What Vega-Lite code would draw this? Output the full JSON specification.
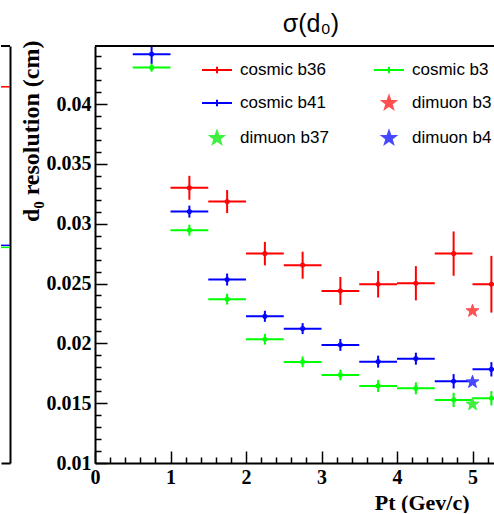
{
  "$schema": "https://vega.github.io/schema/vega-lite/v6.json",
  "padding": {"left": 0, "top": 12, "right": 0, "bottom": 0},
  "background": "white",
  "bounds": "flush",
  "spacing": 85,
  "config": {"view": {"stroke": null}, "font": "Liberation Sans", "axis": {"labelOverlap": false}},
  "datasets": {
    "left": [
      {"series": "cosmic b36", "level": 0.04144},
      {"series": "cosmic b41", "level": 0.02819},
      {"series": "cosmic b37", "level": 0.02802}
    ],
    "cosmic": [
      {"series": "cosmic b36", "pt": 1.25, "ptlo": 1.0, "pthi": 1.5, "d0": 0.0330, "d0lo": 0.0320, "d0hi": 0.0340},
      {"series": "cosmic b36", "pt": 1.75, "ptlo": 1.5, "pthi": 2.0, "d0": 0.03185, "d0lo": 0.03089, "d0hi": 0.03281},
      {"series": "cosmic b36", "pt": 2.25, "ptlo": 2.0, "pthi": 2.5, "d0": 0.0275, "d0lo": 0.02652, "d0hi": 0.02848},
      {"series": "cosmic b36", "pt": 2.75, "ptlo": 2.5, "pthi": 3.0, "d0": 0.02653, "d0lo": 0.0254, "d0hi": 0.02766},
      {"series": "cosmic b36", "pt": 3.25, "ptlo": 3.0, "pthi": 3.5, "d0": 0.02438, "d0lo": 0.02321, "d0hi": 0.02555},
      {"series": "cosmic b36", "pt": 3.75, "ptlo": 3.5, "pthi": 4.0, "d0": 0.02494, "d0lo": 0.02383, "d0hi": 0.02605},
      {"series": "cosmic b36", "pt": 4.25, "ptlo": 4.0, "pthi": 4.5, "d0": 0.02502, "d0lo": 0.02359, "d0hi": 0.02645},
      {"series": "cosmic b36", "pt": 4.75, "ptlo": 4.5, "pthi": 5.0, "d0": 0.0275, "d0lo": 0.02565, "d0hi": 0.02935},
      {"series": "cosmic b36", "pt": 5.25, "ptlo": 5.0, "pthi": 5.5, "d0": 0.02494, "d0lo": 0.02257, "d0hi": 0.02731},
      {"series": "cosmic b37", "pt": 0.75, "ptlo": 0.5, "pthi": 1.0, "d0": 0.04305, "d0lo": 0.0427, "d0hi": 0.0434},
      {"series": "cosmic b37", "pt": 1.25, "ptlo": 1.0, "pthi": 1.5, "d0": 0.02946, "d0lo": 0.029, "d0hi": 0.02992},
      {"series": "cosmic b37", "pt": 1.75, "ptlo": 1.5, "pthi": 2.0, "d0": 0.02369, "d0lo": 0.02324, "d0hi": 0.02414},
      {"series": "cosmic b37", "pt": 2.25, "ptlo": 2.0, "pthi": 2.5, "d0": 0.02034, "d0lo": 0.01989, "d0hi": 0.02079},
      {"series": "cosmic b37", "pt": 2.75, "ptlo": 2.5, "pthi": 3.0, "d0": 0.01845, "d0lo": 0.018, "d0hi": 0.0189},
      {"series": "cosmic b37", "pt": 3.25, "ptlo": 3.0, "pthi": 3.5, "d0": 0.01736, "d0lo": 0.01691, "d0hi": 0.01781},
      {"series": "cosmic b37", "pt": 3.75, "ptlo": 3.5, "pthi": 4.0, "d0": 0.01644, "d0lo": 0.01594, "d0hi": 0.01694},
      {"series": "cosmic b37", "pt": 4.25, "ptlo": 4.0, "pthi": 4.5, "d0": 0.01624, "d0lo": 0.01574, "d0hi": 0.01674},
      {"series": "cosmic b37", "pt": 4.75, "ptlo": 4.5, "pthi": 5.0, "d0": 0.01527, "d0lo": 0.01467, "d0hi": 0.01587},
      {"series": "cosmic b37", "pt": 5.25, "ptlo": 5.0, "pthi": 5.5, "d0": 0.01541, "d0lo": 0.01481, "d0hi": 0.01601},
      {"series": "cosmic b41", "pt": 0.75, "ptlo": 0.5, "pthi": 1.0, "d0": 0.04417, "d0lo": 0.04337, "d0hi": 0.04497},
      {"series": "cosmic b41", "pt": 1.25, "ptlo": 1.0, "pthi": 1.5, "d0": 0.03101, "d0lo": 0.03051, "d0hi": 0.03151},
      {"series": "cosmic b41", "pt": 1.75, "ptlo": 1.5, "pthi": 2.0, "d0": 0.02533, "d0lo": 0.02483, "d0hi": 0.02583},
      {"series": "cosmic b41", "pt": 2.25, "ptlo": 2.0, "pthi": 2.5, "d0": 0.02226, "d0lo": 0.0218, "d0hi": 0.02272},
      {"series": "cosmic b41", "pt": 2.75, "ptlo": 2.5, "pthi": 3.0, "d0": 0.02123, "d0lo": 0.02077, "d0hi": 0.02169},
      {"series": "cosmic b41", "pt": 3.25, "ptlo": 3.0, "pthi": 3.5, "d0": 0.01987, "d0lo": 0.01937, "d0hi": 0.02037},
      {"series": "cosmic b41", "pt": 3.75, "ptlo": 3.5, "pthi": 4.0, "d0": 0.01847, "d0lo": 0.01797, "d0hi": 0.01897},
      {"series": "cosmic b41", "pt": 4.25, "ptlo": 4.0, "pthi": 4.5, "d0": 0.01872, "d0lo": 0.01822, "d0hi": 0.01922},
      {"series": "cosmic b41", "pt": 4.75, "ptlo": 4.5, "pthi": 5.0, "d0": 0.01683, "d0lo": 0.01623, "d0hi": 0.01743},
      {"series": "cosmic b41", "pt": 5.25, "ptlo": 5.0, "pthi": 5.5, "d0": 0.01783, "d0lo": 0.01723, "d0hi": 0.01843}
    ],
    "dimuon": [
      {"series": "dimuon b36", "pt": 5.0, "d0": 0.02271},
      {"series": "dimuon b37", "pt": 5.0, "d0": 0.01491},
      {"series": "dimuon b41", "pt": 5.0, "d0": 0.01677}
    ]
  },
  "hconcat": [
    {
      "width": 9,
      "height": 417,
      "layer": [
        {
          "data": {"name": "left"},
          "transform": [{"filter": "datum.series === 'cosmic b36'"}],
          "mark": {"type": "rule", "color": "#ff0000", "strokeWidth": 1.5},
          "encoding": {
            "x": {"datum": 0, "type": "quantitative", "scale": {"domain": [0, 1], "nice": false}, "axis": {"orient": "bottom", "domain": true, "domainColor": "black", "domainWidth": 2, "ticks": false, "labels": false, "grid": false, "title": null}},
            "x2": {"datum": 1},
            "y": {"field": "level", "type": "quantitative", "scale": {"domain": [0.01, 0.04485], "nice": false, "zero": false}, "axis": {"orient": "right", "domain": true, "domainColor": "black", "domainWidth": 2, "ticks": false, "labels": false, "grid": false, "title": null}}
          }
        },
        {
          "data": {"name": "left"},
          "transform": [{"filter": "datum.series === 'cosmic b41'"}],
          "mark": {"type": "rule", "color": "#0000ff", "strokeWidth": 1.5},
          "encoding": {"x": {"datum": 0, "type": "quantitative"}, "x2": {"datum": 1}, "y": {"field": "level", "type": "quantitative"}}
        },
        {
          "data": {"name": "left"},
          "transform": [{"filter": "datum.series === 'cosmic b37'"}],
          "mark": {"type": "rule", "color": "#00ff00", "strokeWidth": 1.5},
          "encoding": {"x": {"datum": 0, "type": "quantitative"}, "x2": {"datum": 1}, "y": {"field": "level", "type": "quantitative"}}
        },
        {
          "data": {"values": [{}]},
          "mark": {"type": "rule", "color": "black", "strokeWidth": 2},
          "encoding": {"y": {"datum": 0.04485, "type": "quantitative"}}
        }
      ]
    },
    {
      "width": 400,
      "height": 417,
      "title": {"text": "σ(d₀)", "font": "Liberation Sans", "fontSize": 25, "fontWeight": "normal", "color": "black", "anchor": "middle", "frame": "group", "dx": 16, "offset": 3},
      "resolve": {"axis": {"x": "independent", "y": "independent"}},
      "layer": [
        {
          "data": {"name": "cosmic"},
          "mark": {"type": "rule", "strokeWidth": 2, "clip": true},
          "encoding": {
            "x": {
              "field": "ptlo", "type": "quantitative",
              "scale": {"domain": [0, 5.298], "nice": false, "zero": false},
              "axis": {
                "orient": "bottom",
                "values": [0, 1, 2, 3, 4, 5],
                "format": "d",
                "tickSize": -12,
                "labelFont": "Liberation Serif", "labelFontWeight": "bold", "labelFontSize": 20, "labelColor": "black",
                "labelFlush": false, "labelOverlap": false, "labelPadding": 16,
                "tickColor": "black", "tickWidth": 1.5, "domainColor": "black", "domainWidth": 2, "grid": false,
                "title": "Pt (Gev/c)", "titleFont": "Liberation Serif", "titleFontWeight": "bold", "titleFontSize": 22, "titleColor": "black",
                "titleX": 374, "titleY": 46, "titleAlign": "right", "titleBaseline": "alphabetic"
              }
            },
            "x2": {"field": "pthi"},
            "y": {
              "field": "d0", "type": "quantitative",
              "scale": {"domain": [0.01, 0.04485], "nice": false, "zero": false},
              "axis": {
                "orient": "left",
                "values": [0.01, 0.015, 0.02, 0.025, 0.03, 0.035, 0.04],
                "format": ".3~f",
                "tickSize": -12,
                "labelFont": "Liberation Serif", "labelFontWeight": "bold", "labelFontSize": 20, "labelColor": "black",
                "labelOverlap": false, "labelPadding": 16,
                "tickColor": "black", "tickWidth": 1.5, "domainColor": "black", "domainWidth": 2, "grid": false,
                "title": "d₀ resolution (cm)", "titleFont": "Liberation Serif", "titleFontWeight": "bold", "titleFontSize": 24, "titleColor": "black",
                "titleAnchor": "end", "titleAlign": "right", "titleY": -6, "titlePadding": 3
              }
            },
            "color": {
              "field": "series", "type": "nominal",
              "scale": {"domain": ["cosmic b36", "cosmic b37", "cosmic b41", "dimuon b36", "dimuon b37", "dimuon b41"], "range": ["#ff0000", "#00ff00", "#0000ff", "#ff5050", "#40f040", "#4848ff"]},
              "legend": {
                "orient": "none", "legendX": 200, "legendY": 8, "direction": "horizontal", "columns": 2, "title": null,
                "symbolSize": 900, "symbolStrokeWidth": 2, "symbolOpacity": 1,
                "labelFont": "Liberation Sans", "labelFontSize": 17, "labelColor": "black", "labelOffset": 7,
                "columnPadding": 41, "rowPadding": 9,
                "encode": {"labels": {"update": {"limit": {"signal": "datum.index % 2 ? 81 : 300"}, "ellipsis": {"value": "\u200b"}}}}
              }
            }
          }
        },
        {
          "data": {"name": "cosmic"},
          "mark": {"type": "rule", "strokeWidth": 2, "clip": true},
          "encoding": {
            "x": {
              "field": "pt", "type": "quantitative",
              "axis": {
                "orient": "bottom",
                "values": [0.2, 0.4, 0.6, 0.8, 1.2, 1.4, 1.6, 1.8, 2.2, 2.4, 2.6, 2.8, 3.2, 3.4, 3.6, 3.8, 4.2, 4.4, 4.6, 4.8, 5.2],
                "tickSize": -6, "tickColor": "black", "tickWidth": 1.5,
                "labels": false, "domain": false, "grid": false, "title": null
              }
            },
            "y": {
              "field": "d0lo", "type": "quantitative",
              "axis": {
                "orient": "left",
                "values": [0.011, 0.012, 0.013, 0.014, 0.016, 0.017, 0.018, 0.019, 0.021, 0.022, 0.023, 0.024, 0.026, 0.027, 0.028, 0.029, 0.031, 0.032, 0.033, 0.034, 0.036, 0.037, 0.038, 0.039, 0.041, 0.042, 0.043, 0.044],
                "tickSize": -6, "tickColor": "black", "tickWidth": 1.5,
                "labels": false, "domain": false, "grid": false, "title": null
              }
            },
            "y2": {"field": "d0hi"},
            "color": {"field": "series", "type": "nominal"}
          }
        },
        {
          "data": {"name": "cosmic"},
          "mark": {"type": "point", "filled": false, "size": 16, "strokeWidth": 1.2, "opacity": 1, "clip": true},
          "encoding": {
            "x": {"field": "pt", "type": "quantitative", "axis": null},
            "y": {"field": "d0", "type": "quantitative", "axis": null},
            "color": {"field": "series", "type": "nominal"}
          }
        },
        {
          "data": {"name": "dimuon"},
          "mark": {"type": "point", "filled": true, "size": 900, "opacity": 1, "strokeWidth": 1, "clip": true},
          "encoding": {
            "x": {"field": "pt", "type": "quantitative", "axis": null},
            "y": {"field": "d0", "type": "quantitative", "axis": null},
            "color": {"field": "series", "type": "nominal"},
            "stroke": {
              "field": "series", "type": "nominal",
              "scale": {"domain": ["cosmic b36", "cosmic b37", "cosmic b41", "dimuon b36", "dimuon b37", "dimuon b41"], "range": ["#ff0000", "#00ff00", "#0000ff", "#ff5050", "#40f040", "#4848ff"]}
            },
            "shape": {
              "field": "series", "type": "nominal",
              "scale": {"domain": ["cosmic b36", "cosmic b37", "cosmic b41", "dimuon b36", "dimuon b37", "dimuon b41"], "range": ["M-1,0L1,0M0,-0.22L0,0.22", "M-1,0L1,0M0,-0.22L0,0.22", "M-1,0L1,0M0,-0.22L0,0.22", "M0,-0.45L0.106,-0.146L0.428,-0.139L0.171,0.056L0.265,0.364L0,0.18L-0.265,0.364L-0.171,0.056L-0.428,-0.139L-0.106,-0.146Z", "M0,-0.45L0.106,-0.146L0.428,-0.139L0.171,0.056L0.265,0.364L0,0.18L-0.265,0.364L-0.171,0.056L-0.428,-0.139L-0.106,-0.146Z", "M0,-0.45L0.106,-0.146L0.428,-0.139L0.171,0.056L0.265,0.364L0,0.18L-0.265,0.364L-0.171,0.056L-0.428,-0.139L-0.106,-0.146Z"]}
            }
          }
        },
        {
          "data": {"values": [{}]},
          "mark": {"type": "rule", "color": "black", "strokeWidth": 2, "clip": false},
          "encoding": {"y": {"datum": 0.04485, "type": "quantitative", "axis": null}}
        }
      ]
    }
  ]
}
